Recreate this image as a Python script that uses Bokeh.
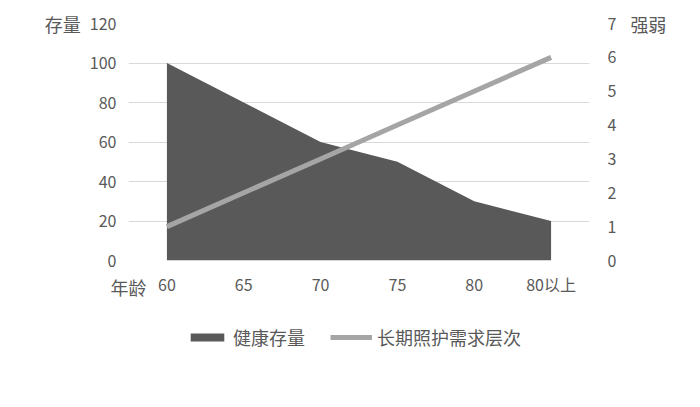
from bokeh.plotting import figure
from bokeh.layouts import column
from bokeh.models import (FactorRange, Range1d, LinearAxis, FixedTicker,
                          Legend, LegendItem)
from bokeh.embed import file_html
from bokeh.resources import INLINE

ages = ["60", "65", "70", "75", "80", "80以上"]
health_stock = [100, 80, 60, 50, 30, 20]
care_level = [1, 2, 3, 4, 5, 6]
left_ticks = [0, 20, 40, 60, 80, 100, 120]
right_ticks = [0, 1, 2, 3, 4, 5, 6, 7]
series_names = ["健康存量", "长期照护需求层次"]

FONT = "Noto Sans CJK SC"
TXT = "#595959"
AREA_C = "#595959"
LINE_C = "#A5A5A5"

p = figure(x_range=FactorRange(factors=ages, range_padding=0),
           y_range=Range1d(0, 120),
           frame_width=461, frame_height=237,
           output_backend="svg", toolbar_location=None,
           min_border_left=128, min_border_right=111,
           min_border_top=23, min_border_bottom=50)
p.outline_line_color = None
p.background_fill_color = "white"
p.border_fill_color = "white"

p.extra_y_ranges = {"right": Range1d(0, 7)}

p.varea(x=ages, y1=0, y2=health_stock, fill_color=AREA_C)
p.line(x=ages, y=care_level, y_range_name="right", line_color=LINE_C, line_width=5)

p.xgrid.visible = False
p.ygrid.grid_line_color = "#D9D9D9"
p.ygrid.grid_line_width = 1
p.yaxis.ticker = FixedTicker(ticks=left_ticks)

raxis = LinearAxis(y_range_name="right", ticker=FixedTicker(ticks=right_ticks))
p.add_layout(raxis, "right")

for ax in [p.xaxis[0], p.yaxis[0], raxis]:
    ax.axis_line_color = None
    ax.major_tick_line_color = None
    ax.minor_tick_line_color = None
    ax.major_label_text_font = FONT
    ax.major_label_text_font_size = "16px"
    ax.major_label_text_color = TXT
    ax.axis_label_text_font = FONT
    ax.axis_label_text_font_size = "18px"
    ax.axis_label_text_font_style = "normal"
    ax.axis_label_text_color = TXT
    ax.axis_label_orientation = "horizontal"

p.yaxis[0].axis_label = "存量"
p.yaxis[0].axis_label_align = "end"
p.yaxis[0].axis_label_standoff = 6
p.yaxis[0].axis_label_text_baseline = "middle"
raxis.axis_label = "强弱"
raxis.axis_label_align = "end"
raxis.axis_label_standoff = 11
raxis.axis_label_text_baseline = "middle"
p.xaxis[0].axis_label = "年龄"
p.xaxis[0].axis_label_align = "start"
p.xaxis[0].axis_label_standoff = -25

p.yaxis[0].major_label_standoff = 6
raxis.major_label_standoff = 12
p.xaxis[0].major_label_standoff = 5

# legend strip below the chart (legend placed inside its own frame,
# which the column aligns with the main chart's frame)
lg = figure(x_range=FactorRange(factors=ages), y_range=Range1d(0, 120),
            width=700, height=97, output_backend="svg", toolbar_location=None,
            x_axis_location=None, y_axis_location=None,
            min_border_left=0, min_border_right=0,
            min_border_top=0, min_border_bottom=0)
lg.outline_line_color = None
lg.grid.visible = False
lg.background_fill_color = "white"
lg.border_fill_color = "white"
lg_area = lg.varea(x=ages, y1=0, y2=health_stock, fill_color=AREA_C, visible=False)
lg_line = lg.line(x=ages, y=care_level, line_color=LINE_C, line_width=5, visible=False)

legend = Legend(items=[LegendItem(label=series_names[0], renderers=[lg_area]),
                       LegendItem(label=series_names[1], renderers=[lg_line])],
                orientation="horizontal", location=(58, 57),
                label_text_font=FONT, label_text_font_size="18px",
                label_text_color=TXT, glyph_width=42, glyph_height=10,
                label_standoff=5, spacing=25, border_line_color=None,
                background_fill_alpha=0, margin=0, padding=6)
lg.add_layout(legend, "center")

layout = column(p, lg, spacing=0)
open("out.html", "w").write(file_html(layout, INLINE))
